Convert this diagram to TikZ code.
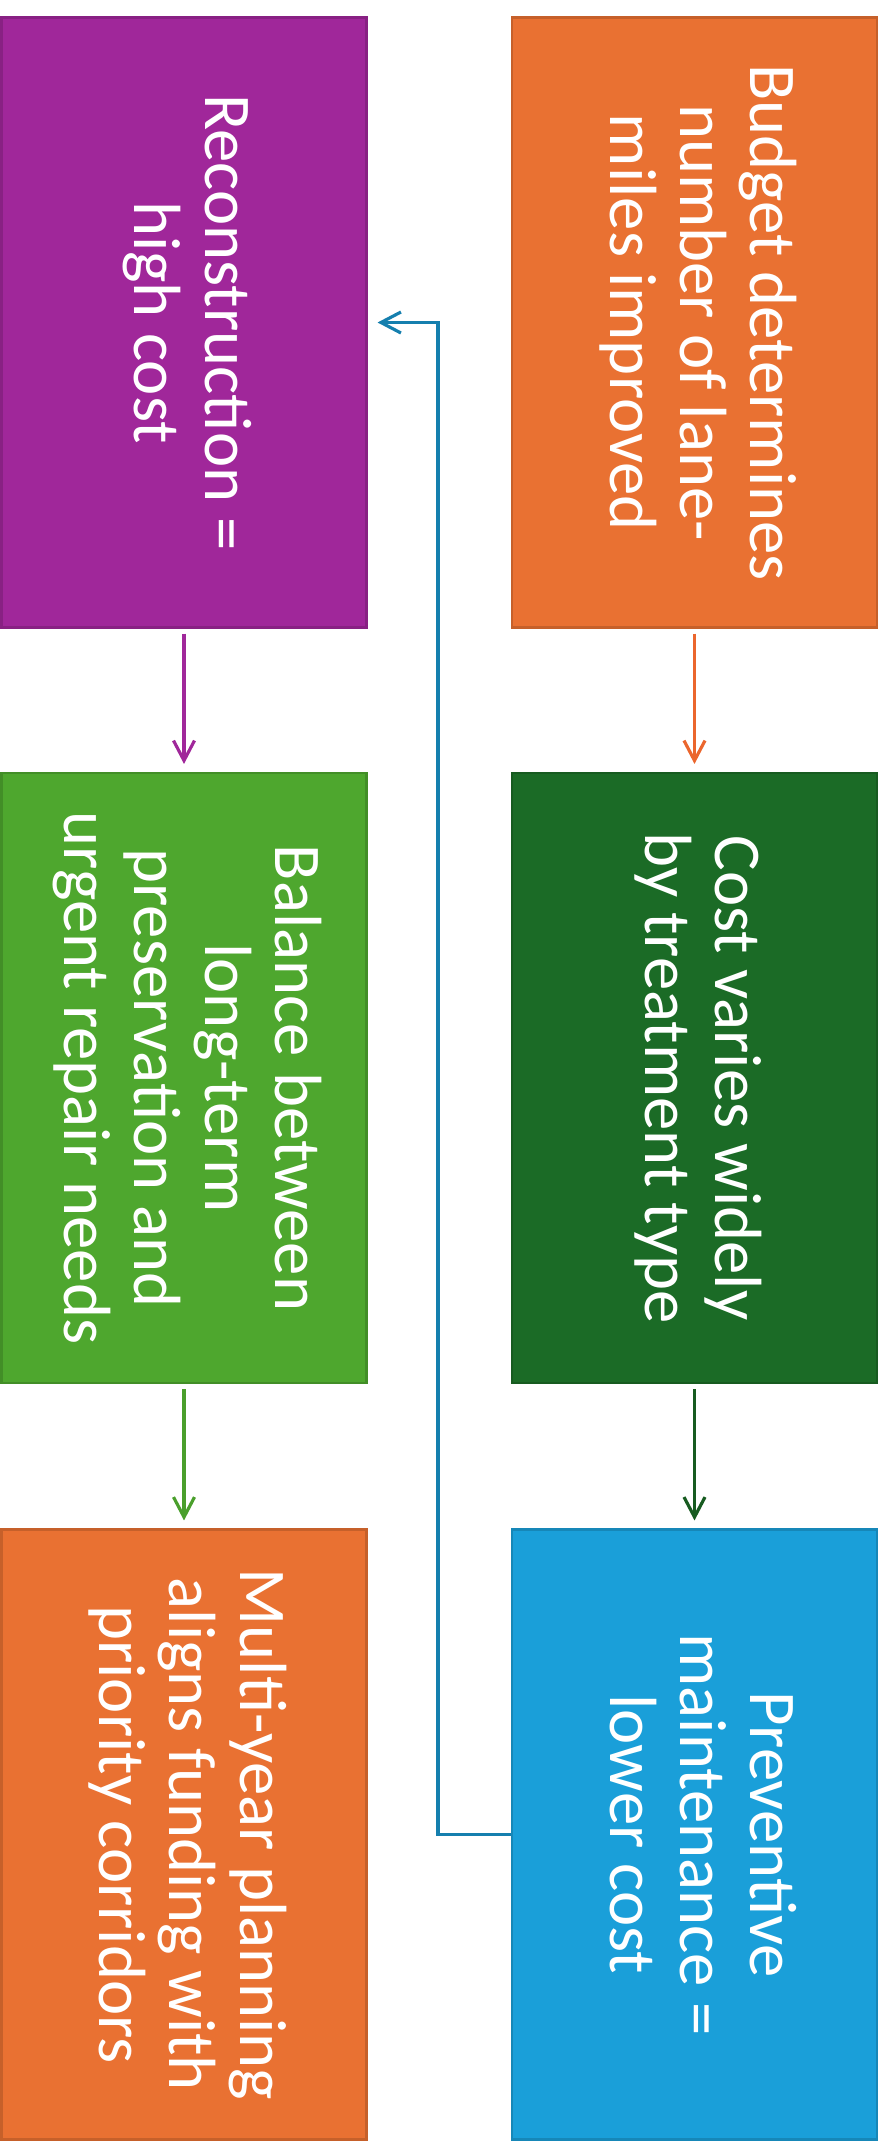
\documentclass[tikz,border=0pt]{standalone}
\usepackage{fontspec}
\setmainfont{Carlito}
\usepackage{graphicx}
\usetikzlibrary{arrows.meta}

\definecolor{budgetorange}{HTML}{E97132}
\definecolor{costgreen}{HTML}{1B6B26}
\definecolor{prevblue}{HTML}{1A9FD9}
\definecolor{reconpurple}{HTML}{A0279A}
\definecolor{balgreen}{HTML}{4EA72E}
\definecolor{planorange}{HTML}{E97132}

\newcommand{\sidetext}[1]{\rotatebox{-90}{\begin{tabular}{@{}c@{}}#1\end{tabular}}}

\begin{document}
\begin{tikzpicture}[
    box/.style={rectangle, minimum width=3.65cm, minimum height=6.1cm, inner sep=0pt,
        fill=#1, draw=#1!85!black, line width=0.6pt, text=white,
        font=\fontsize{19}{20}\selectfont},
    link/.style={draw=#1, line width=0.9pt, -{Straight Barb[length=2mm,width=2.1mm]},
        shorten <=0.05cm, shorten >=0.08cm}
]
\useasboundingbox (0,0) rectangle (8.85,-21.53);

% right column
\node[box=budgetorange] (budget) at (6.945,-3.225) {\sidetext{Budget determines\\number of lane-\\miles improved}};
\node[box=costgreen] (cost) at (6.945,-10.78) {\sidetext{Cost varies widely\\by treatment type}};
\node[box=prevblue] (prevent) at (6.945,-18.345) {\sidetext{Preventive\\maintenance =\\lower cost}};

% left column
\node[box=reconpurple] (recon) at (1.84,-3.225) {\sidetext{Reconstruction =\\high cost}};
\node[box=balgreen] (balance) at (1.84,-10.78) {\sidetext{Balance between\\long-term\\preservation and\\urgent repair needs}};
\node[box=planorange] (plan) at (1.84,-18.345) {\sidetext{Multi-year planning\\aligns funding with\\priority corridors}};

\draw[link=budgetorange!90!red] (budget) -- (cost);
\draw[link=costgreen!85!black] (cost) -- (prevent);
\draw[link=reconpurple] (recon) -- (balance);
\draw[link=balgreen!95!black] (balance) -- (plan);
\draw[link=prevblue!80!black, shorten <=0pt, shorten >=0.1cm] (prevent.west) -- ++(-0.73,0) |- (recon.east);
\end{tikzpicture}
\end{document}
